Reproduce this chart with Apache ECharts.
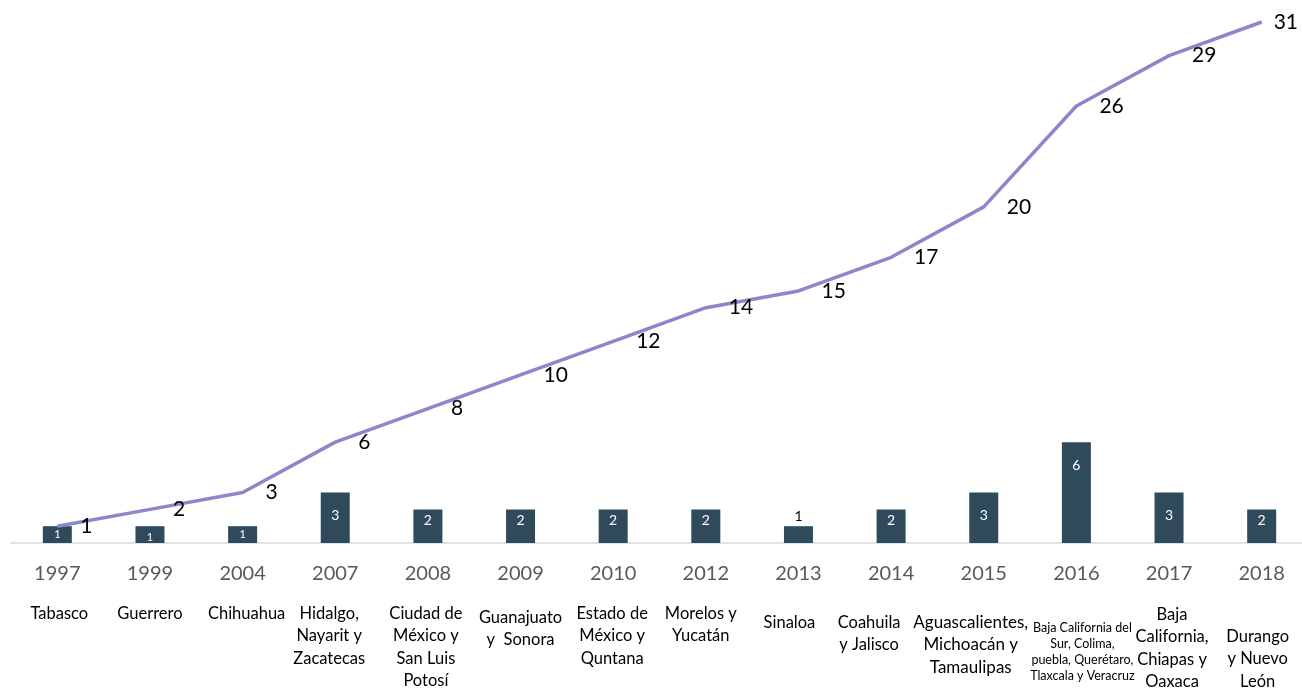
<!DOCTYPE html>
<html>
<head>
<meta charset="utf-8">
<script src="https://cdn.jsdelivr.net/npm/echarts@6/dist/echarts.min.js"></script>
<style>html,body{margin:0;padding:0;background:#fff;}#c{width:1302px;height:688px;}</style>
</head>
<body>
<div id="c"></div>
<script>
var years = ['1997','1999','2004','2007','2008','2009','2010','2012','2013','2014','2015','2016','2017','2018'];
var states = [
  'Tabasco',
  'Guerrero',
  'Chihuahua',
  'Hidalgo,\nNayarit y\nZacatecas',
  'Ciudad de\nMéxico y\nSan Luis\nPotosí',
  'Guanajuato\ny  Sonora',
  'Estado de\nMéxico y\nQuntana',
  'Morelos y\nYucatán',
  'Sinaloa',
  'Coahuila\ny Jalisco',
  'Aguascalientes,\nMichoacán y\nTamaulipas',
  'Baja California del\nSur, Colima,\npuebla, Querétaro,\nTlaxcala y Veracruz',
  'Baja\nCalifornia,\nChiapas y\nOaxaca',
  'Durango\ny Nuevo\nLeón'
];
var perYear = [1,1,1,3,2,2,2,2,1,2,3,6,3,2];
var cumulative = [1,2,3,6,8,10,12,14,15,17,20,26,29,31];

// label shifts (style only)
var statePadTop = [0,0,0,0,0,4,0,0,9,9,9,18,1,23];
var stateShiftX = [2,0,4,-6,-2,0,-1,-5,-9,-22,-13,6,3,-4];

var stateData = states.map(function (s, i) {
  var sx = stateShiftX[i];
  var pad = [statePadTop[i], sx < 0 ? -2 * sx : 0, 0, sx > 0 ? 2 * sx : 0];
  var ts = { padding: pad };
  if (i === 11) { ts.fontSize = 12.5; ts.lineHeight = 16; }
  if (i === 10) { ts.fontSize = 17; }
  return { value: s, textStyle: ts };
});

var barData = perYear.map(function (v, i) {
  var lab;
  if (i === 8) {
    lab = { position: 'top', color: '#000', fontSize: 14, distance: 3 };
  } else if (v === 1) {
    lab = { position: 'inside', fontSize: 11, offset: [0, i === 1 ? 3 : 0] };
  } else if (v === 2) {
    lab = { position: 'insideTop', distance: 4 };
  } else {
    lab = { position: 'insideTop', distance: 16 };
  }
  return { value: v, label: lab };
});

var lineData = cumulative.map(function (v, i) {
  if (i === cumulative.length - 1) {
    return { value: v, label: { distance: 11, offset: [0, 2] } };
  }
  return v;
});

var chart = echarts.init(document.getElementById('c'));
chart.setOption({
  animation: false,
  grid: { left: 11, right: -6, top: 22, bottom: 145, containLabel: false, outerBoundsMode: 'none' },
  xAxis: [
    {
      type: 'category',
      data: years,
      position: 'bottom',
      axisLine: { show: true, lineStyle: { color: '#d9d9d9', width: 1.5 } },
      axisTick: { show: false },
      axisLabel: { color: '#595959', fontSize: 20, lineHeight: 24, margin: 19, fontFamily: 'Lato', interval: 0 }
    },
    {
      type: 'category',
      data: stateData,
      position: 'bottom',
      axisLine: { show: false },
      axisTick: { show: false },
      axisLabel: {
        color: '#000', fontSize: 16.5, lineHeight: 22.5, margin: 59, fontFamily: 'Lato',
        verticalAlign: 'top', interval: 0
      }
    }
  ],
  yAxis: { type: 'value', min: 0, max: 31, show: false, splitLine: { show: false } },
  series: [
    {
      type: 'bar',
      data: barData,
      xAxisIndex: 0,
      barWidth: 29,
      itemStyle: { color: '#2f4b5b' },
      label: { show: true, color: '#fff', fontSize: 14, fontFamily: 'Lato' },
      z: 2
    },
    {
      type: 'line',
      data: lineData,
      xAxisIndex: 0,
      symbol: 'circle',
      symbolSize: 2,
      showSymbol: true,
      showAllSymbol: true,
      clip: false,
      itemStyle: { color: 'rgba(0,0,0,0)' },
      lineStyle: { color: '#8a87cb', width: 3.5 },
      label: { show: true, position: 'right', distance: 22, offset: [0, 5], color: '#000', fontSize: 21, fontFamily: 'Lato' },
      labelLayout: { hideOverlap: false },
      z: 3
    }
  ]
});
</script>
</body>
</html>
